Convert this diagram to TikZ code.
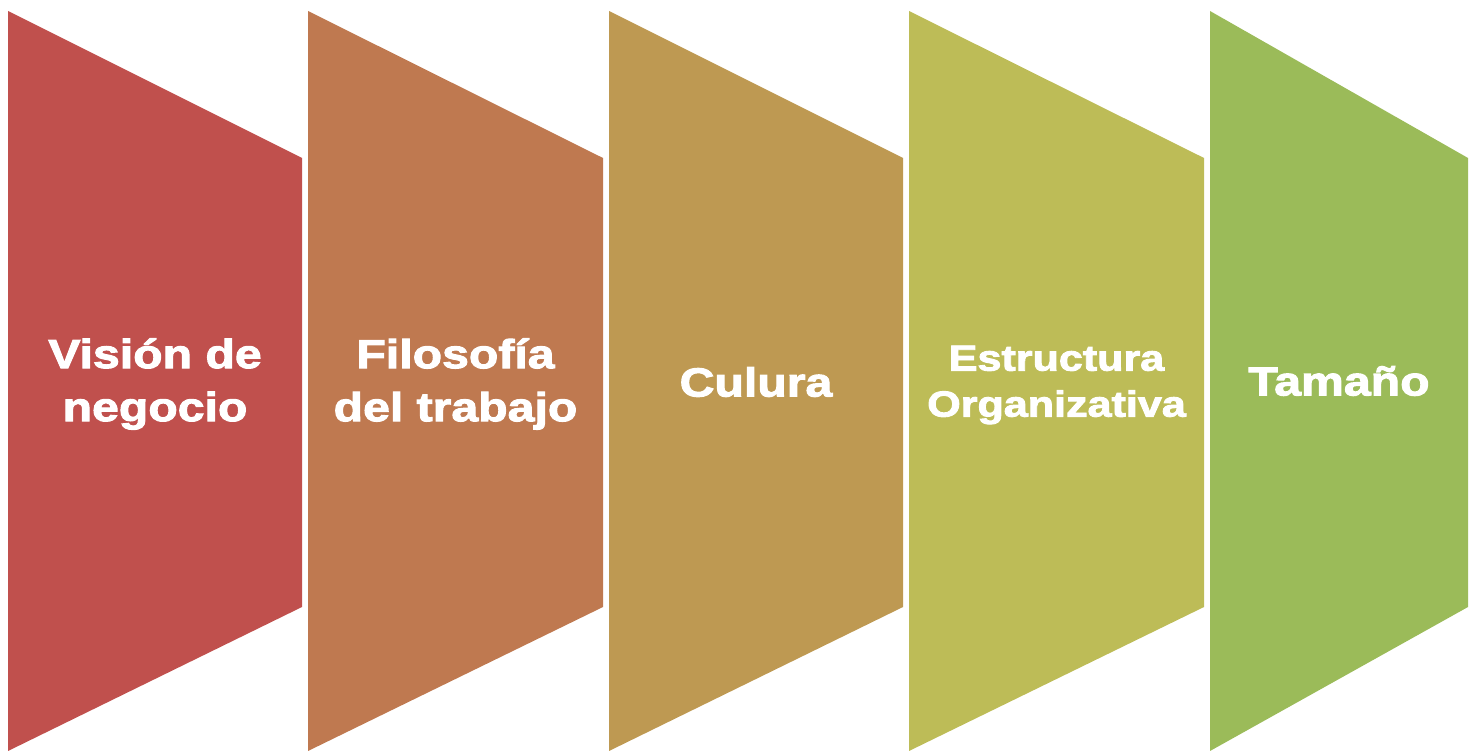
\documentclass[tikz,border=0pt]{standalone}
\usepackage{fontspec}
\newfontfamily\stagefont{Liberation Sans}[FakeStretch=1.19,FakeBold=2.5]

\definecolor{stageA}{RGB}{192,80,77}
\definecolor{stageB}{RGB}{191,121,80}
\definecolor{stageC}{RGB}{190,153,82}
\definecolor{stageD}{RGB}{189,188,87}
\definecolor{stageE}{RGB}{155,187,89}

\begin{document}
\begin{tikzpicture}[x=1pt,y=-1pt, % one unit per pixel, y pointing down
  stagetext/.style={text=white,align=center,font=\stagefont\bfseries\fontsize{40.5}{53}\selectfont},
  smalltext/.style={stagetext,font=\stagefont\bfseries\fontsize{36.2}{46}\selectfont}]
\useasboundingbox (0,0) rectangle (1477,751);

% the five chevron-like blocks, left x / right x / fill
\foreach \l/\r/\c in {8/302/stageA,308/603/stageB,609/903/stageC,909/1204/stageD,1210/1468/stageE}
\fill[\c] (\l,11) -- (\r,158) -- (\r,607) -- (\l,751) -- cycle;

\node[stagetext] (vision) at (155,384) {Visión de\\negocio};
\node[stagetext] (filosofia) at (455.5,384) {Filosofía\\del trabajo};
\node[stagetext] (cultura) at (756,382) {Culura};
\node[smalltext] (estructura) at (1056.5,385) {Estructura\\Organizativa};
\node[stagetext] (tamano) at (1339,381) {Tamaño};

\end{tikzpicture}
\end{document}
